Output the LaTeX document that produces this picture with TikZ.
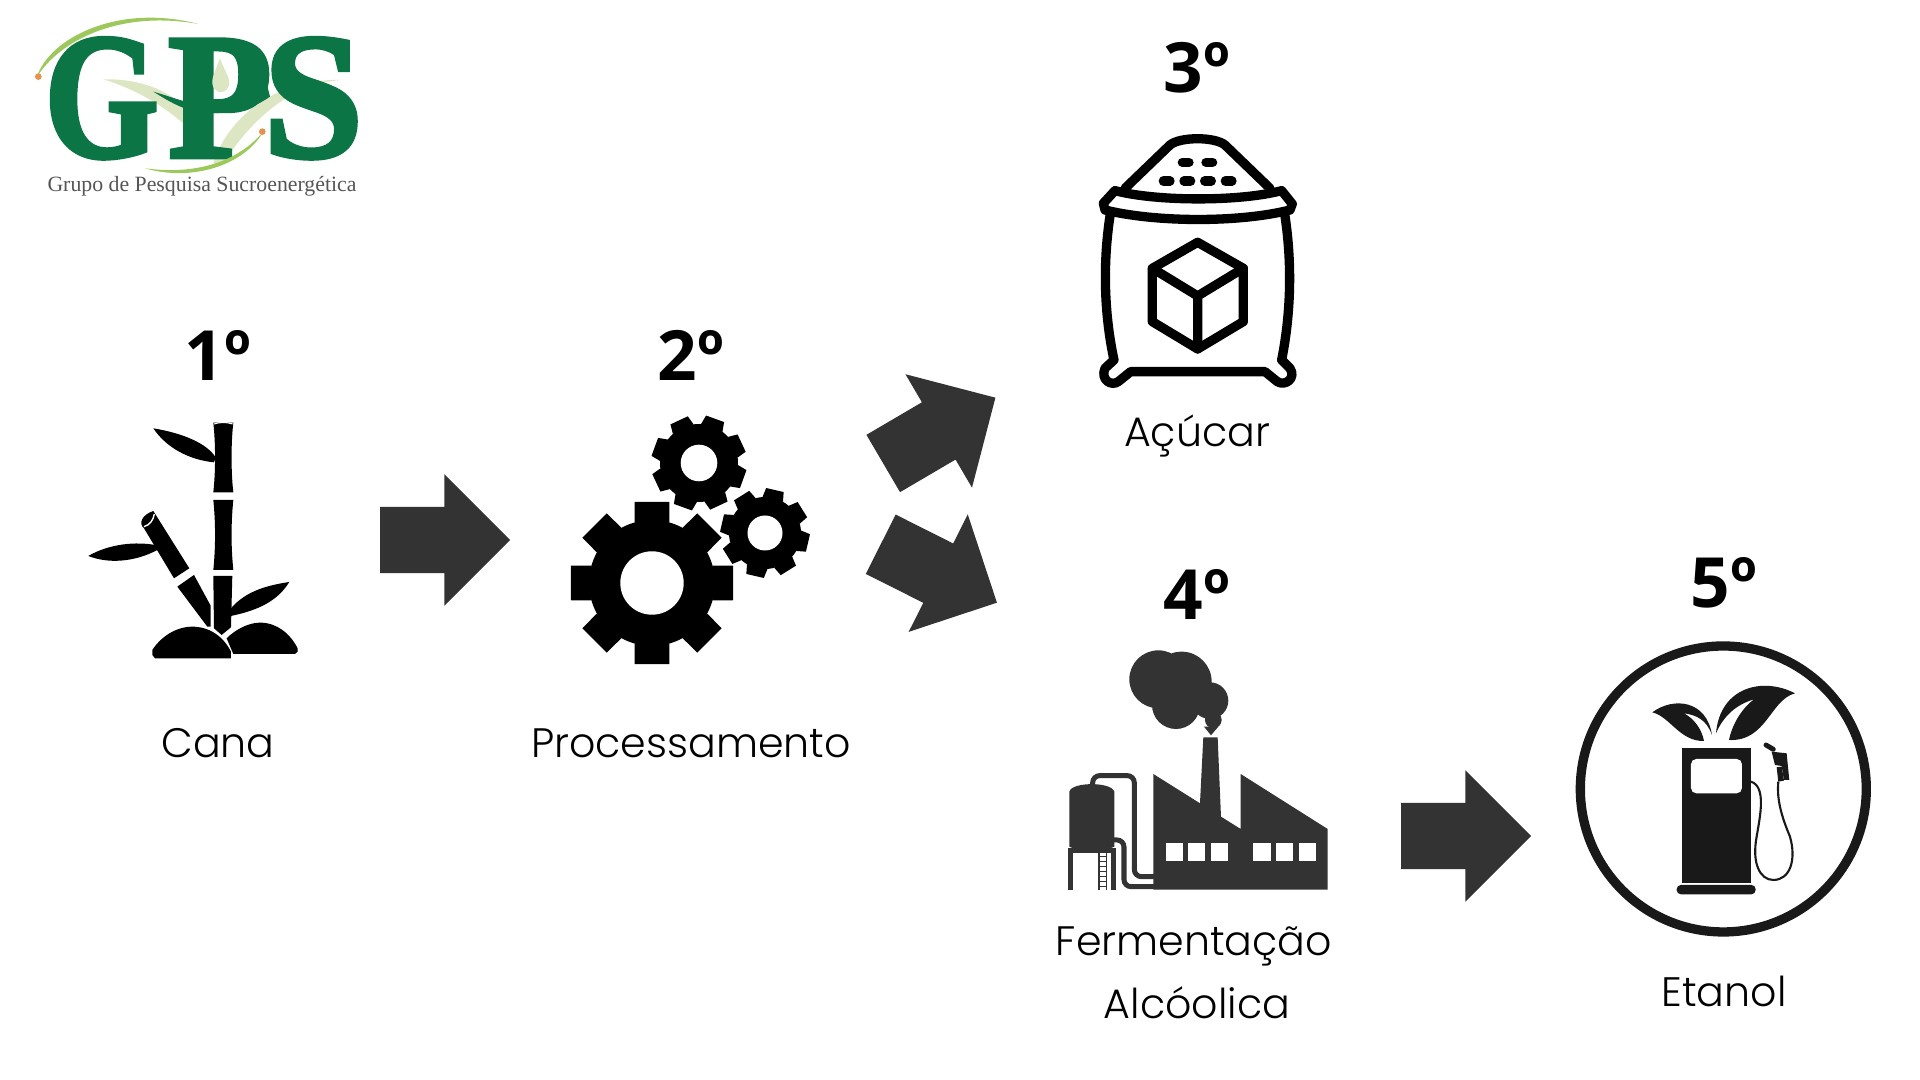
\documentclass[tikz,border=0pt]{standalone}
\usepackage{fontspec}
\setmainfont{Poppins Light}
\newfontfamily\headfont{Open Sans}
\newfontfamily\logofont{Liberation Serif}
\newfontfamily\gpsfont[BoldFeatures={FakeBold=2.5}]{Liberation Serif}
\usetikzlibrary{shapes.arrows}
\definecolor{darkicon}{HTML}{333333}
\definecolor{gpsgreen}{HTML}{0B7545}
\definecolor{gpsleaf}{HTML}{DDE6C2}
\definecolor{gpsswoosh}{HTML}{9CC85C}
\definecolor{gpsdot}{HTML}{E5924C}
\definecolor{gpsgrey}{HTML}{555555}
\tikzset{
	headnode/.style={font=\headfont\bfseries\fontsize{19.7}{22}\selectfont, inner sep=0pt, text=black},
	labelnode/.style={font=\fontsize{11.7}{13}\selectfont, inner sep=0pt, text=black},
	blockarrow/.style={shape=single arrow, fill=darkicon, inner xsep=0pt, inner ysep=0.325cm, minimum width=1.3cm, minimum height=1.3cm, single arrow head extend=0.325cm, single arrow tip angle=90},
	logoletter/.style={font=\gpsfont\bfseries\fontsize{51}{51}\selectfont, inner sep=0pt, text=gpsgreen},
	iconframe/.style={shift={(#1)}, scale=0.3333},
	sackline/.style={draw=black, line width=0.093cm, line join=round, line cap=round},
}
\newcommand{\gearicon}[8]{
	\begin{scope}[shift={(#1,#2)}]
		\fill (0,0) circle (#3);
		\foreach \a in {0,45,...,315}
			\fill ({\a+#6-#8}:#3) -- ({\a+#6-#7}:#4) -- ({\a+#6+#7}:#4) -- ({\a+#6+#8}:#3) -- cycle;
		\fill[white] (0,0) circle (#5);
	\end{scope}
}
\begin{document}
\begin{tikzpicture}[x=0.01cm, y=-0.01cm]
	\useasboundingbox (0,0) rectangle (1920,1080);
	\begin{scope}[iconframe={20,0}]
		\fill[gpsleaf] (250,238) .. controls (400,235) and (540,300) .. (590,490) .. controls (540,400) and (420,290) .. (250,238) -- cycle;
		\fill[gpsleaf] (580,490) .. controls (620,360) and (760,235) .. (965,240) .. controls (800,250) and (680,380) .. (610,490) -- cycle;
		\node[logoletter, xscale=0.82] (logog) at (245,295) {G};
		\node[logoletter, xscale=0.95] (logop) at (600,295) {P};
		\node[logoletter, xscale=1.0] (logos) at (880,295) {S};
		\fill[gpsleaf] (600,175) .. controls (585,215) and (575,235) .. (577,250) .. controls (580,285) and (625,285) .. (628,250) .. controls (630,235) and (615,215) .. (600,175) -- cycle;
		\fill[gpsgreen] (400,275) .. controls (470,295) and (520,320) .. (590,315) .. controls (650,310) and (700,290) .. (740,250) -- (750,290) .. controls (680,340) and (600,345) .. (530,335) .. controls (480,325) and (440,300) .. (400,275) -- cycle;
		\fill[gpsswoosh] (50,232) .. controls (90,110) and (300,10) .. (535,72) .. controls (300,30) and (120,120) .. (50,232) -- cycle;
		\fill[gpsswoosh] (375,505) .. controls (520,525) and (650,490) .. (730,395) .. controls (670,500) and (510,545) .. (375,505) -- cycle;
		\fill[gpsdot] (55,230) circle (10);
		\fill[gpsdot] (727,395) circle (10);
	\end{scope}
	\node[font=\logofont\fontsize{6.2}{8}\selectfont, inner sep=0pt, text=gpsgrey] (logotext) at (202,186) {Grupo de Pesquisa Sucroenergética};
	\node[headnode] (headcana) at (218,355) {1º};
	\node[headnode] (headproc) at (691,355) {2º};
	\node[headnode] (headacucar) at (1197,68) {3º};
	\node[headnode] (headferm) at (1197,594) {4º};
	\node[headnode] (headetanol) at (1724,583) {5º};
	\node[labelnode] (labelcana) at (218,743) {Cana};
	\node[labelnode] (labelproc) at (691,743) {Processamento};
	\node[labelnode] (labelacucar) at (1197,436) {Açúcar};
	\node[labelnode] (labelferm) at (1194,946) {Fermentação};
	\node[labelnode] (labelalc) at (1197,1003) {Alcóolica};
	\node[labelnode] (labeletanol) at (1724,991) {Etanol};
	\node[blockarrow] (arrowcana) at (428.5,540) {};
	\node[blockarrow, rotate=30.4] (arrowacucar) at (925,439) {};
	\node[blockarrow, rotate=-26.7] (arrowferm) at (924,566) {};
	\node[blockarrow] (arrowetanol) at (1449.5,836) {};
	\begin{scope}[iconframe={70,400}]
		\fill (430,68) -- (490,68) .. controls (483,130) and (483,215) .. (490,277) -- (430,277) .. controls (437,215) and (437,130) .. (430,68) -- cycle;
		\fill (430,300) -- (490,300) .. controls (483,370) and (483,440) .. (490,510) -- (430,510) .. controls (437,440) and (437,370) .. (430,300) -- cycle;
		\fill (430,528) -- (487,528) -- (483,682) -- (455,705) -- (432,685) -- cycle;
		\draw[white, line width=0.3pt] (432,72) .. controls (450,66) and (470,66) .. (488,72);
		\fill (250,333) -- (358,505) -- (312,535) -- (222,385) .. controls (205,370) and (215,345) .. (250,333) -- cycle;
		\draw[white, line width=0.4pt] (222,380) .. controls (240,375) and (250,360) .. (253,342);
		\fill (322,560) -- (372,525) -- (422,617) -- (422,680) -- (412,680) -- cycle;
		\fill (250,85) .. controls (340,100) and (410,130) .. (437,172) -- (432,187) .. controls (360,180) and (290,145) .. (250,85) -- cycle;
		\fill (55,468) .. controls (120,430) and (200,425) .. (255,435) -- (268,447) .. controls (190,490) and (110,490) .. (55,468) -- cycle;
		\fill (658,546) .. controls (600,555) and (530,570) .. (483,625) -- (483,648) .. controls (570,630) and (625,600) .. (658,546) -- cycle;
		\fill (247,765) -- (247,750) .. controls (280,700) and (330,680) .. (365,680) .. controls (420,680) and (460,710) .. (483,755) -- (483,775) -- (255,775) -- cycle;
		\fill (490,762) -- (470,715) .. controls (500,685) and (540,668) .. (570,668) .. controls (620,668) and (660,700) .. (683,745) -- (683,755) -- (675,762) -- cycle;
	\end{scope}
	\gearicon{652}{583}{63}{83}{31.7}{0}{12}{16}
	\gearicon{699}{463}{39}{48}{18.3}{-25}{11.5}{17}
	\gearicon{765}{533}{36}{45}{17.5}{-32}{11.5}{17}
	\begin{scope}[iconframe={1040,110}]
		\draw[sackline] (255,235) -- (390,105) .. controls (420,80) and (525,80) .. (555,105) -- (690,235);
		\draw[sackline] (225,242) .. controls (350,275) and (600,275) .. (725,242) -- (757,282) -- (750,300) .. controls (600,338) and (350,338) .. (195,300) -- (190,280) -- cycle;
		\draw[sackline] (210,318) .. controls (190,450) and (190,600) .. (222,750) -- (195,775) .. controls (180,810) and (215,830) .. (235,815) -- (272,785) -- (675,785) -- (712,815) .. controls (735,830) and (770,805) .. (750,775) -- (725,750) .. controls (755,600) and (755,450) .. (735,318);
		\foreach \dotx/\doty in {437/157, 508/157, 380/213, 442/213, 504/213, 566/213}
			\draw[black, line width=0.093cm, line cap=round] (\dotx-10,\doty) -- (\dotx+10,\doty);
		\draw[sackline] (473,397) -- (610,475) -- (610,635) -- (473,717) -- (337,635) -- (337,475) -- cycle;
		\draw[sackline] (337,475) -- (473,558) -- (610,475) (473,558) -- (473,717);
	\end{scope}
	\begin{scope}[iconframe={1050,630}]
		\fill[darkicon] (325,148) circle (87) (395,155) circle (90) (378,225) circle (72) (480,212) circle (55) (490,270) circle (25);
		\fill[darkicon] (462,290) -- (483,316) -- (505,290) -- cycle;
		\fill[darkicon] (310,432) -- (450,520) -- (460,322) -- (503,322) -- (513,560) -- (572,597) -- (572,432) -- (833,597) -- (833,779) -- (310,779) -- cycle;
		\foreach \winx in {347,414,482,610,678,746}
			\fill[white] (\winx,640) rectangle (\winx+52,692);
		\draw[darkicon, line width=0.05cm, rounded corners=2pt] (128,465) -- (128,437) -- (253,437) -- (253,740) -- (312,740);
		\draw[darkicon, line width=0.05cm, rounded corners=2pt] (190,630) -- (222,630) -- (222,770) -- (312,770);
		\fill[darkicon] (58,650) -- (58,485) .. controls (65,455) and (185,455) .. (193,485) -- (193,650) .. controls (185,660) and (65,660) .. (58,650) -- cycle;
		\draw[darkicon, line width=0.05cm] (62,779) -- (62,662) -- (190,662) -- (190,779);
		\draw[darkicon, line width=0.4pt] (147,670) -- (147,779) (170,670) -- (170,779);
		\foreach \rungy in {680,695,...,770}
			\draw[darkicon, line width=0.4pt] (147,\rungy) -- (170,\rungy);
	\end{scope}
	\begin{scope}[iconframe={1560,630}]
		\draw[black!90, line width=0.093cm] (490,477) circle (429);
		\fill[black!90] (366,355) rectangle (573,758);
		\fill[white, rounded corners=1.5pt] (393,387) rectangle (546,490);
		\fill[black!90, rounded corners=1.2pt] (350,765) rectangle (587,793);
		\fill[black!90] (277,247) .. controls (340,200) and (440,210) .. (456,315) .. controls (440,270) and (410,255) .. (372,250) .. controls (400,265) and (425,295) .. (432,333) .. controls (360,335) and (330,260) .. (277,247) -- cycle;
		\fill[black!90] (705,190) .. controls (610,140) and (480,170) .. (468,310) .. controls (490,260) and (525,225) .. (582,208) .. controls (540,240) and (515,290) .. (507,330) .. controls (620,335) and (630,210) .. (705,190) -- cycle;
		\draw[black!90, line width=0.6pt] (573,455) .. controls (620,470) and (600,560) .. (590,620) .. controls (575,700) and (600,750) .. (640,750) .. controls (690,750) and (710,690) .. (690,620) .. controls (665,560) and (650,510) .. (655,455);
		\draw[black!90, line width=1.4pt, line cap=round] (618,345) -- (640,358);
		\fill[black!90] (635,365) -- (680,370) -- (688,450) -- (672,450) -- (665,408) -- (645,405) -- cycle;
		\fill[black!90] (650,412) -- (665,410) -- (672,452) -- (655,455) -- cycle;
	\end{scope}
\end{tikzpicture}
\end{document}
